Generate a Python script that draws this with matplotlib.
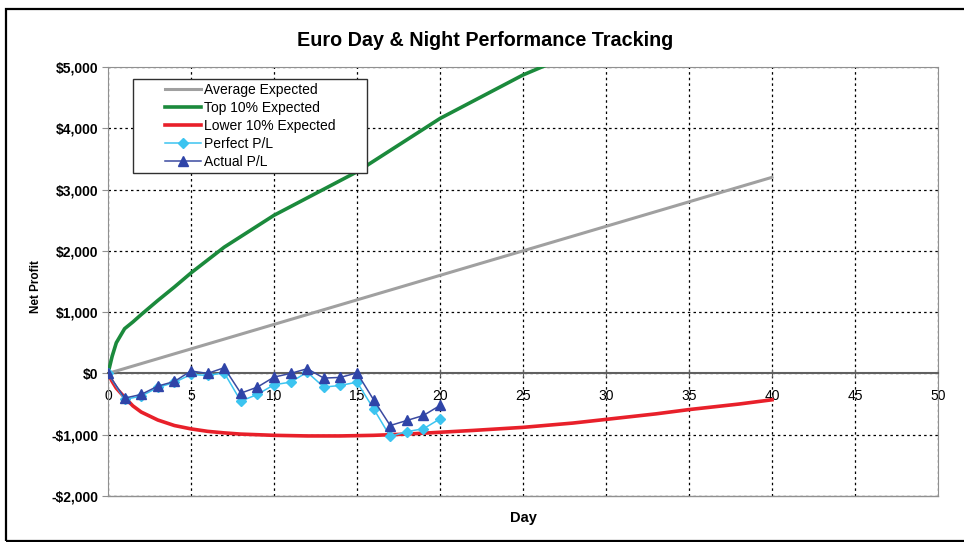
import numpy as np
import matplotlib.pyplot as plt
from matplotlib.patches import Rectangle
from matplotlib.legend_handler import HandlerLine2D

plt.rcParams['font.family'] = ['Liberation Sans', 'DejaVu Sans']

# Expected curves
avg_days = [0, 40]
avg_vals = [0, 3200]

top_days = [0, 0.25, 0.5, 1, 1.5, 2, 3, 4, 5, 7, 10, 15, 20, 25, 27]
top_vals = [0, 280, 500, 730, 840, 960, 1190, 1410, 1640, 2060, 2580, 3290, 4160, 4870, 5100]

low_days = [0, 0.25, 0.5, 1, 1.5, 2, 3, 4, 5, 6, 7, 8, 10, 12, 14, 16, 18, 20, 22, 25, 28, 30, 33, 35, 38, 40]
low_vals = [0, -130, -240, -390, -530, -630, -760, -850, -905, -945, -970, -990, -1010, -1020,
            -1020, -1010, -990, -960, -930, -880, -810, -750, -660, -590, -500, -430]

# Daily P/L
days = list(range(21))
perfect_pl = [0, -425, -370, -229, -147, -16, -33, 10, -452, -343, -185, -142, 20, -223, -196,
              -142, -577, -1029, -948, -904, -741]
actual_pl = [0, -403, -343, -207, -131, 40, 0, 93, -322, -223, -60, 0, 77, -76, -65,
             10, -430, -850, -768, -686, -523]


# legend handle drawn only in the right part of the handle box
class RightHandler(HandlerLine2D):
    def get_xdata(self, legend, xdescent, ydescent, width, height, fontsize):
        x0 = -xdescent + 0.44 * width
        x1 = -xdescent + width
        return np.array([x0, x1]), np.array([(x0 + x1) / 2])


fig = plt.figure(figsize=(9.64, 5.42), dpi=100)
ax = fig.add_axes([108/964, 1-496/542, 830/964, 429/542])

ax.plot(avg_days, avg_vals, color='#a0a0a0', lw=2.2, label='Average Expected', zorder=3)
ax.plot(top_days, top_vals, color='#1b8a3c', lw=2.6, label='Top 10% Expected', zorder=3)
ax.plot(low_days, low_vals, color='#e8202a', lw=2.6, label='Lower 10% Expected', zorder=3)
ax.plot(days, perfect_pl, color='#3cc4f0', lw=1.1, marker='D', ms=5, mec='#3cc4f0',
        mfc='#3cc4f0', label='Perfect P/L', zorder=4)
ax.plot(days, actual_pl, color='#3a4aa0', lw=1.1, marker='^', ms=7, mec='#2f44a8',
        mfc='#2f44a8', label='Actual P/L', zorder=5)

ax.set_xlim(0, 50)
ax.set_ylim(-2000, 5000)
ax.set_xticks(range(0, 51, 5))
ax.set_yticks(range(-2000, 5001, 1000))
ax.set_yticklabels(['$0' if v == 0 else ('-$' if v < 0 else '$') + format(abs(v), ',') for v in range(-2000, 5001, 1000)],
                   fontweight='bold', fontsize=10)
ax.grid(True, color='black', linestyle=(0, (2, 2.5)), lw=0.9)

# box and zero axis
for s in ['top', 'right', 'left']:
    ax.spines[s].set_color('#909090')
ax.spines['bottom'].set_position(('data', 0))
ax.spines['bottom'].set_color('#606060')
ax.spines['bottom'].set_linewidth(1.5)
ax.axhline(-2000, color='#909090', lw=1.0, clip_on=False)
ax.tick_params(axis='x', direction='inout', length=6, color='#606060', labelsize=10, pad=8.5)
ax.tick_params(axis='y', direction='out', length=4, color='#909090', pad=3)

ax.set_xlabel('Day', fontweight='bold', fontsize=10.5)
ax.xaxis.set_label_coords(0.5, -0.035)
ax.set_ylabel('Net Profit', fontweight='bold', fontsize=8.5)
ax.yaxis.set_label_coords(-0.08, 0.488)
fig.text(485/964, 1-40/542, 'Euro Day & Night Performance Tracking', ha='center', va='center',
         fontsize=14.2, fontweight='bold')

leg = ax.legend(loc='upper left', bbox_to_anchor=(0.0301, 0.972), fontsize=10, frameon=False,
                handlelength=4.6, handletextpad=0.2, labelspacing=0.28, borderpad=0.3,
                borderaxespad=0, handler_map={plt.Line2D: RightHandler(numpoints=1)})
leg.set_zorder(8)
ax.add_patch(Rectangle((25/830, (496-173)/429), 234/830, 94/429, transform=ax.transAxes,
                       facecolor='white', edgecolor='#303030', lw=1.0, zorder=7))

fig.patches.append(Rectangle((6/964, 1/542), 960/964, 532/542, transform=fig.transFigure,
                             fill=False, edgecolor='black', lw=1.6))

fig.savefig('out.png', dpi=100)
